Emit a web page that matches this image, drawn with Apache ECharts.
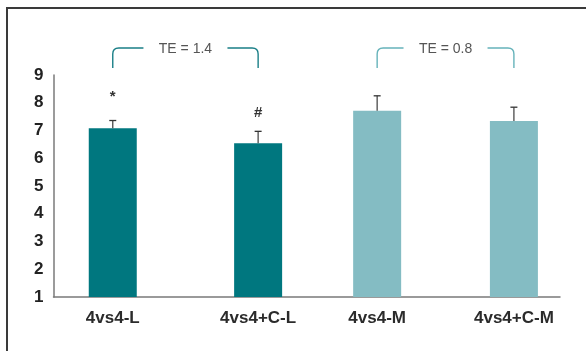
<!DOCTYPE html>
<html>
<head>
<meta charset="utf-8">
<script src="https://cdn.jsdelivr.net/npm/echarts@6/dist/echarts.min.js"></script>
<style>
html,body{margin:0;padding:0;background:#fff;}
#chart{width:586px;height:351px;}
</style>
</head>
<body>
<div id="chart"></div>
<script>
// ---- data ----
var categories = ['4vs4-L', '4vs4+C-L', '4vs4-M', '4vs4+C-M'];
var xPositions = [11.7, 40.4, 63.9, 90.9];
var values = [7.08, 6.54, 7.71, 7.34];
var errorTops = [7.36, 6.97, 8.25, 7.84];
var markers = ['*', '#', '', ''];
var barColors = ['#00777f', '#00777f', '#84bcc3', '#84bcc3'];
var yTicks = [1, 2, 3, 4, 5, 6, 7, 8, 9];
var bracketLeft = [0, 2];
var bracketRight = [1, 3];
var bracketLabels = ['TE = 1.4', 'TE = 0.8'];
var bracketColors = ['#1a7f87', '#66b3ba'];

var chart = echarts.init(document.getElementById('chart'), null, {renderer: 'canvas'});

var barData = values.map(function (v, i) {
  return {value: [xPositions[i], v], itemStyle: {color: barColors[i]}};
});
var errData = values.map(function (v, i) {
  return [xPositions[i], v, errorTops[i], markers[i]];
});
var bracketData = bracketLeft.map(function (l, i) {
  return [xPositions[l], xPositions[bracketRight[i]], i];
});

var labelFont = '"Liberation Sans Narrow", "Liberation Sans", Arial, sans-serif';

var option = {
  animation: false,
  backgroundColor: '#fff',
  grid: {left: 53.5, right: 26, top: 75, bottom: 54, containLabel: false},
  xAxis: {
    type: 'value',
    min: 0,
    max: 100,
    axisLine: {show: true, lineStyle: {color: '#7a7a7a', width: 1.5}},
    axisTick: {show: false},
    splitLine: {show: false},
    axisLabel: {
      customValues: xPositions,
      margin: 13,
      fontSize: 17,
      fontWeight: 'bold',
      color: '#2b2b2b',
      fontFamily: labelFont,
      formatter: function (val) {
        var idx = xPositions.indexOf(val);
        return idx >= 0 ? categories[idx] : '';
      }
    }
  },
  yAxis: {
    type: 'value',
    min: yTicks[0],
    max: yTicks[yTicks.length - 1],
    interval: 1,
    axisLine: {show: true, lineStyle: {color: '#7a7a7a', width: 1.5}},
    axisTick: {show: false},
    splitLine: {show: false},
    axisLabel: {
      margin: 10,
      fontSize: 17,
      fontWeight: 'bold',
      color: '#222',
      fontFamily: labelFont
    }
  },
  graphic: [{
    type: 'polyline',
    shape: {points: [[7, 351], [7, 8], [590, 8]]},
    style: {stroke: '#3a3a3a', lineWidth: 2, fill: null},
    silent: true
  }],
  series: [
    {
      type: 'bar',
      barWidth: 48,
      data: barData,
      z: 2
    },
    {
      type: 'custom',
      data: errData,
      clip: false,
      z: 3,
      renderItem: function (params, api) {
        var x = api.value(0);
        var base = api.coord([x, api.value(1)]);
        var top = api.coord([x, api.value(2)]);
        var mark = markers[params.dataIndex];
        var children = [
          {type: 'line', shape: {x1: base[0], y1: base[1], x2: top[0], y2: top[1]},
           style: {stroke: '#4a4a4a', lineWidth: 1.3}},
          {type: 'line', shape: {x1: top[0] - 3.5, y1: top[1], x2: top[0] + 3.5, y2: top[1]},
           style: {stroke: '#333', lineWidth: 1.3}}
        ];
        if (mark) {
          var lift = mark === '*' ? 24 : 18;
          children.push({
            type: 'text',
            style: {
              text: mark, x: top[0], y: top[1] - lift,
              align: 'center', verticalAlign: 'middle',
              fontSize: 15, fontWeight: 'bold', fill: '#333',
              fontFamily: labelFont
            }
          });
        }
        return {type: 'group', children: children};
      }
    },
    {
      type: 'custom',
      data: bracketData,
      clip: false,
      z: 3,
      renderItem: function (params, api) {
        var pl = api.coord([api.value(0), 9]);
        var pr = api.coord([api.value(1), 9]);
        var gridTop = params.coordSys.y;
        var yTop = gridTop - 27;
        var yBot = gridTop - 7;
        var r = 6;
        var mid = (pl[0] + pr[0]) / 2;
        var gap = 42;
        var idx = params.dataIndex;
        var col = bracketColors[idx];
        var path = 'M' + pl[0] + ',' + yBot + ' L' + pl[0] + ',' + (yTop + r) +
          ' Q' + pl[0] + ',' + yTop + ' ' + (pl[0] + r) + ',' + yTop +
          ' L' + (mid - gap) + ',' + yTop +
          ' M' + (mid + gap) + ',' + yTop + ' L' + (pr[0] - r) + ',' + yTop +
          ' Q' + pr[0] + ',' + yTop + ' ' + pr[0] + ',' + (yTop + r) +
          ' L' + pr[0] + ',' + yBot;
        return {
          type: 'group',
          children: [
            {type: 'path', shape: {pathData: path},
             style: {stroke: col, lineWidth: 1.4, fill: null}},
            {type: 'text', style: {
              text: bracketLabels[idx], x: mid, y: yTop + 1,
              align: 'center', verticalAlign: 'middle',
              fontSize: 14, fill: '#555',
              fontFamily: labelFont
            }}
          ]
        };
      }
    }
  ]
};
chart.setOption(option);
</script>
</body>
</html>
